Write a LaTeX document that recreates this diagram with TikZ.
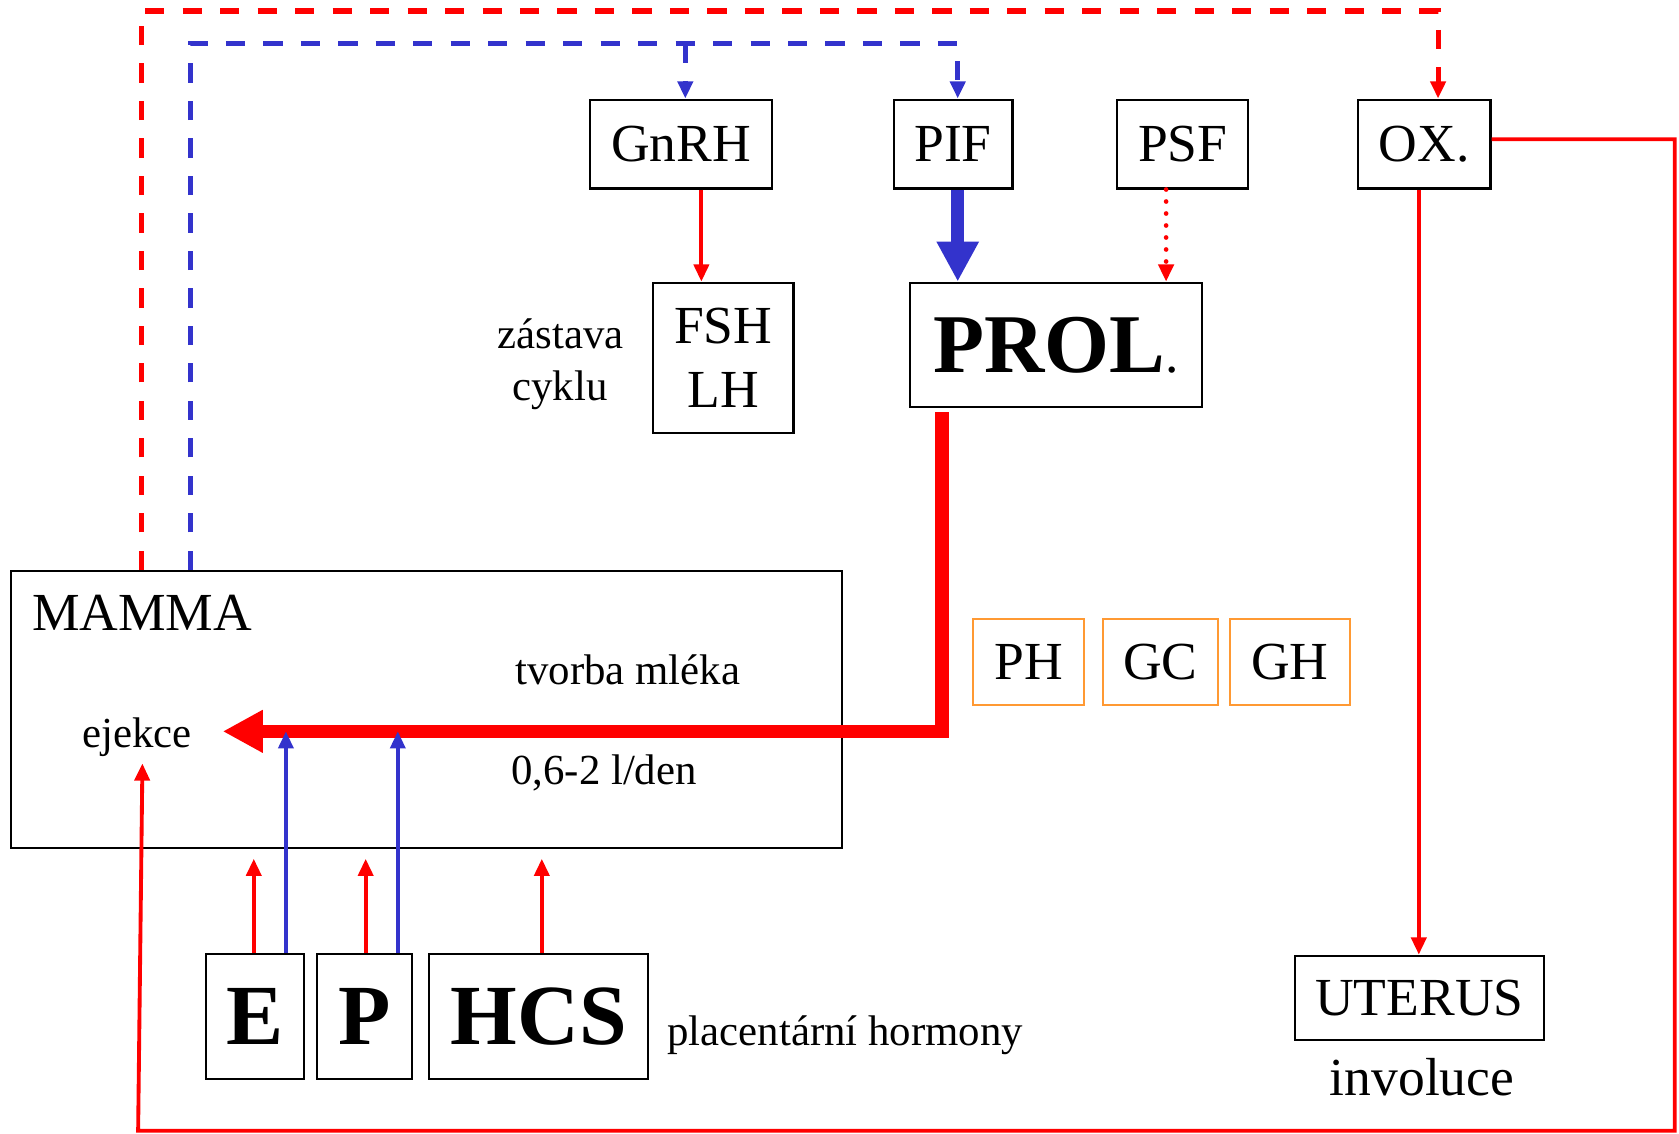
\documentclass[tikz,border=0pt]{standalone}
\usepackage{fontspec}
\setmainfont{Liberation Serif}
\usetikzlibrary{arrows.meta}
\definecolor{myred}{RGB}{255,0,0}
\definecolor{myblue}{RGB}{51,51,204}
\definecolor{myorange}{RGB}{255,153,51}
\begin{document}
\begin{tikzpicture}[x=0.5pt,y=-0.5pt,
  box/.style={draw=black,line width=1pt,inner sep=0pt,align=center,font=\fontsize{25}{30}\selectfont},
  obox/.style={draw=myorange,line width=1pt,inner sep=0pt,minimum height=40pt,font=\fontsize{25}{30}\selectfont},
  bigbox/.style={draw=black,line width=1pt,inner sep=0pt,font=\fontsize{40}{44}\selectfont\bfseries,minimum height=58.5pt},
  lbl/.style={inner sep=0pt,anchor=base west,font=\fontsize{20}{24}\selectfont},
  lblc/.style={inner sep=0pt,anchor=base,font=\fontsize{20}{24}\selectfont},
  smalltip/.style={-{Triangle[length=8pt,width=7pt]}},
  rarr/.style={draw=myred,line width=1.8pt,smalltip},
  barr/.style={draw=myblue,line width=1.8pt,smalltip},
  rdash/.style={draw=myred,line width=2.4pt,dash pattern=on 9pt off 8.5pt,smalltip},
  bdash/.style={draw=myblue,line width=2.4pt,dash pattern=on 9pt off 8.5pt,smalltip},
  rdot/.style={draw=myred,line width=2.2pt,line cap=round,dash pattern=on 0pt off 5.6pt,smalltip},
  rthick/.style={draw=myred,line width=6.4pt,-{Triangle[length=18.7pt,width=18.7pt]}},
  bthick/.style={draw=myblue,line width=6.2pt,-{Triangle[length=18.7pt,width=18.5pt]}}
]
\useasboundingbox (0,0) rectangle (1568,1059);

% boxes
\node[box,minimum width=85pt,minimum height=41.5pt] (gnrh) at (636,134.5) {GnRH};
\node[box,minimum width=55.5pt,minimum height=41.5pt] (pif) at (890,134.5) {PIF};
\node[box,minimum width=61pt,minimum height=41.5pt] (psf) at (1104.5,134.5) {PSF};
\node[box,minimum width=62pt,minimum height=41.5pt] (ox) at (1330,134.5) {OX.};
\node[box,minimum width=65.5pt,minimum height=70.25pt] (fsh) at (675.5,334.25) {FSH\\[0pt]LH};
\node[box,minimum width=136.5pt,minimum height=58pt] (prol) at (986,322) {{\fontsize{39}{44}\selectfont\bfseries PROL}.};
\node[draw=black,line width=0.8pt,inner sep=0pt,minimum width=388pt,minimum height=129.5pt] (mamma) at (398,662.5) {};
\node[obox,minimum width=52pt] (ph) at (960.5,618) {PH};
\node[obox,minimum width=54pt] (gc) at (1083.75,618) {GC};
\node[obox,minimum width=56pt] (gh) at (1204.5,618) {GH};
\node[box,minimum width=116.5pt,minimum height=39.5pt] (uterus) at (1325.5,932) {UTERUS};
\node[bigbox,minimum width=46pt] (e) at (238,949.5) {E};
\node[bigbox,minimum width=44.5pt] (p) at (340.5,949.5) {P};
\node[bigbox,minimum width=102pt] (hcs) at (503,949.5) {HCS};

% labels
\node[inner sep=0pt,anchor=base west,font=\fontsize{25}{30}\selectfont] (mammalbl) at (29.5,589) {MAMMA};
\node[lbl] (tvorba) at (481,639) {tvorba mléka};
\node[lbl] (den) at (477,732.7) {0,6-2 l/den};
\node[lbl] (ejekce) at (76.7,698) {ejekce};
\node[lblc] (zastava) at (523.5,325) {zástava};
\node[lblc] (cyklu) at (523,373.6) {cyklu};
\node[lbl] (plac) at (623,976) {placentární hormony};
\node[inner sep=0pt,anchor=base,font=\fontsize{25}{30}\selectfont] (involuce) at (1328,1023) {involuce};

% helper coordinates
\coordinate (rtop) at (132.5,10.3);
\coordinate (rox) at (1343,0);
\coordinate (btop) at (177.6,40.5);
\coordinate (gbr) at (640,40.5);
\coordinate (pifx) at (894.4,0);
\coordinate (gx) at (655,0);
\coordinate (psx) at (1089,0);
\coordinate (ux) at (1325,0);
\coordinate (oxr) at ([yshift=2.25pt]ox.east);
\coordinate (rc) at (1564,0);
\coordinate (lb) at (129,1056);
\coordinate (ejt) at (133,713);
\coordinate (px2) at (880,0);
\coordinate (atip) at (208,683);
\coordinate (ebx) at (267,683);
\coordinate (pbx) at (371.5,683);
\coordinate (er) at (237,802);
\coordinate (pr) at (341.5,802);
\coordinate (hr) at (506,802);

% dashed feedback lines
\draw[rdash] (mamma.north -| rtop) -- (rtop) -| (ox.north -| rox);
\draw[bdash] (mamma.north -| btop) -- (btop) -| (pif.north -| pifx);
\draw[bdash] (gbr) -- (gbr |- gnrh.north);

% hypothalamus -> pituitary
\draw[rarr] (gnrh.south -| gx) -- (fsh.north -| gx);
\draw[bthick] (pif.south -| pifx) -- (prol.north -| pifx);
\draw[rdot] (psf.south -| psx) -- (prol.north -| psx);

% oxytocin
\draw[rarr] (ox.south -| ux) -- (uterus.north -| ux);
\draw[rarr] (oxr) -| (lb -| rc) -- (lb) -- (ejt);

% prolactin
\draw[rthick,shorten <=2pt] (prol.south -| px2) -- (px2 |- atip) -- (atip);

% placental hormones
\draw[barr] (e.north -| ebx) -- (ebx);
\draw[barr] (p.north -| pbx) -- (pbx);
\draw[rarr] (e.north -| er) -- (er);
\draw[rarr] (p.north -| pr) -- (pr);
\draw[rarr] (hcs.north -| hr) -- (hr);
\end{tikzpicture}
\end{document}
